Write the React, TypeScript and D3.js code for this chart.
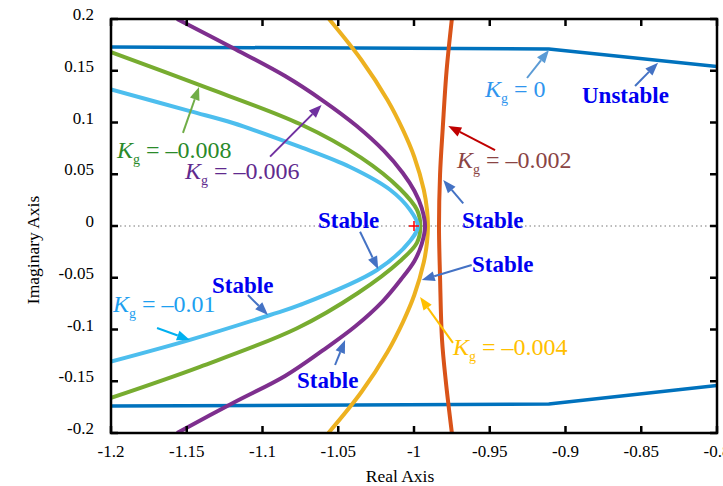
import React from "react";
import * as d3 from "d3";

// axis ticks
const xTicks = [-1.2, -1.15, -1.1, -1.05, -1, -0.95, -0.9, -0.85, -0.8];
const xTickLabels = ["-1.2", "-1.15", "-1.1", "-1.05", "-1", "-0.95", "-0.9", "-0.85", "-0.8"];
const yTicks = [0.2, 0.15, 0.1, 0.05, 0, -0.05, -0.1, -0.15, -0.2];
const yTickLabels = ["0.2", "0.15", "0.1", "0.05", "0", "-0.05", "-0.1", "-0.15", "-0.2"];

// root locus branches, [real, imag]
const kg0Upper: [number, number][] = [[-1.2, 0.173], [-0.911, 0.171], [-0.8, 0.154]];
const kg0Lower: [number, number][] = [[-1.2, -0.174], [-0.911, -0.172], [-0.8, -0.154]];
const kg002: [number, number][] = [
  [-0.975, 0.2], [-0.9785, 0.15], [-0.981, 0.095], [-0.9828, 0.05], [-0.9835, 0],
  [-0.9828, -0.05], [-0.9815, -0.11], [-0.979, -0.15], [-0.975, -0.2],
];
const kg004: [number, number][] = [
  [-1.0561, 0.2], [-1.0347, 0.1604], [-1.0175, 0.1217], [-1.0073, 0.0928], [-0.9998, 0.0667],
  [-0.9935, 0.0348], [-0.9914, 0.0155], [-0.9908, 0], [-0.9914, -0.0155], [-0.9935, -0.0348],
  [-0.9998, -0.0667], [-1.0073, -0.0928], [-1.0175, -0.1217], [-1.0347, -0.1604], [-1.0565, -0.2],
];
const kg006: [number, number][] = [
  [-1.1564, 0.2], [-1.1195, 0.172], [-1.0851, 0.1449], [-1.0607, 0.1217], [-1.0378, 0.0966],
  [-1.0198, 0.0725], [-1.0074, 0.0512], [-0.9997, 0.0338], [-0.9949, 0.0174], [-0.9927, 0],
  [-0.9949, -0.0174], [-0.9997, -0.0338], [-1.0085, -0.0515], [-1.0205, -0.0725],
  [-1.0385, -0.0966], [-1.0607, -0.1207], [-1.0851, -0.1449], [-1.1195, -0.171], [-1.1564, -0.2],
];
const kg008: [number, number][] = [
  [-1.2, 0.168], [-1.1413, 0.136], [-1.0752, 0.0985], [-1.035, 0.066], [-1.0093, 0.036],
  [-0.998, 0.0155], [-0.9958, 0], [-0.998, -0.016], [-1.0093, -0.034], [-1.037, -0.0647],
  [-1.0775, -0.099], [-1.1413, -0.136], [-1.2, -0.166],
];
const kg010: [number, number][] = [
  [-1.2, 0.132], [-1.1479, 0.111], [-1.1195, 0.0995], [-1.0752, 0.0764], [-1.0422, 0.057],
  [-1.0158, 0.035], [-1.0026, 0.0155], [-0.9974, 0], [-1.0026, -0.0145], [-1.0244, -0.0425],
  [-1.0752, -0.0763], [-1.095, -0.086], [-1.1479, -0.11], [-1.2, -0.131],
];

const series = [
  { pts: kg0Upper, color: "#0072BD", w: 3.5, smooth: false },
  { pts: kg0Lower, color: "#0072BD", w: 3.5, smooth: false },
  { pts: kg002, color: "#D95319", w: 4, smooth: true },
  { pts: kg004, color: "#EDB120", w: 4, smooth: true },
  { pts: kg006, color: "#7E2F8E", w: 4, smooth: true },
  { pts: kg008, color: "#77AC30", w: 4, smooth: true },
  { pts: kg010, color: "#4DBEEE", w: 4, smooth: true },
];

// annotation texts and arrows (data coordinates)
const kLabels = [
  { value: "0", re: -0.9531, im: 0.1246, color: "#2F95EE" },
  { value: "–0.002", re: -0.9716, im: 0.056, color: "#8A4444" },
  { value: "–0.004", re: -0.9743, im: -0.1246, color: "#FFC000" },
  { value: "–0.006", re: -1.1512, im: 0.0454, color: "#5F2A8E" },
  { value: "–0.008", re: -1.196, im: 0.0657, color: "#2A8A2A" },
  { value: "–0.01", re: -1.1987, im: -0.0831, color: "#1E9FF0" },
];
const stableLabels = [
  { text: "Unstable", re: -0.8891, im: 0.1188 },
  { text: "Stable", re: -0.9683, im: -0.0019 },
  { text: "Stable", re: -1.0634, im: -0.0019 },
  { text: "Stable", re: -0.9617, im: -0.0444 },
  { text: "Stable", re: -1.1333, im: -0.0647 },
  { text: "Stable", re: -1.0772, im: -0.1565 },
];
const arrows = [
  { from: [-0.9254, 0.143], to: [-0.9109, 0.17], color: "#5B9BD5" },
  { from: [-0.8541, 0.1353], to: [-0.8389, 0.1578], color: "#4472C4" },
  { from: [-0.9465, 0.0734], to: [-0.9774, 0.0966], color: "#C00000" },
  { from: [-0.9675, 0.0219], to: [-0.9807, 0.0444], color: "#4472C4" },
  { from: [-1.0356, -0.0055], to: [-1.0236, -0.0418], color: "#4472C4" },
  { from: [-0.9619, -0.0377], to: [-0.9949, -0.0522], color: "#4472C4" },
  { from: [-1.1096, -0.0667], to: [-1.0964, -0.086], color: "#4472C4" },
  { from: [-1.0521, -0.1343], to: [-1.0455, -0.1101], color: "#4472C4" },
  { from: [-1.1696, -0.0985], to: [-1.1479, -0.1101], color: "#00B0F0" },
  { from: [-1.1525, 0.0899], to: [-1.1419, 0.1343], color: "#70AD47" },
  { from: [-1.095, 0.067], to: [-1.061, 0.117], color: "#7030A0" },
  { from: [-0.9743, -0.113], to: [-0.996, -0.0686], color: "#FFC000" },
];
const marker = [-1.0, 0];

const FONT = "Liberation Serif";

export default function App() {
  const left = 111, right = 717, top = 19, bottom = 433;
  const x = d3.scaleLinear().domain([-1.2, -0.8]).range([left, right]);
  const y = d3.scaleLinear().domain([-0.2, 0.2]).range([bottom, top]);

  const smoothLine = d3.line<[number, number]>()
    .x(d => x(d[0])).y(d => y(d[1]))
    .curve(d3.curveCatmullRom.alpha(0.5));
  const straightLine = d3.line<[number, number]>()
    .x(d => x(d[0])).y(d => y(d[1]));

  //arrow with filled head
  const arrow = (a: any, i: number) => {
    const x1 = x(a.from[0]), y1 = y(a.from[1]);
    const x2 = x(a.to[0]), y2 = y(a.to[1]);
    const len = Math.hypot(x2 - x1, y2 - y1);
    const ux = (x2 - x1) / len, uy = (y2 - y1) / len;
    const hl = 13, hw = 5;
    const bx = x2 - ux * hl, by = y2 - uy * hl;
    const pts = [
      [x2, y2],
      [bx - uy * hw, by + ux * hw],
      [bx + uy * hw, by - ux * hw],
    ].map(p => p.join(",")).join(" ");
    return (
      <g key={"a" + i}>
        <line x1={x1} y1={y1} x2={bx} y2={by} stroke={a.color} strokeWidth={2} />
        <polygon points={pts} fill={a.color} />
      </g>
    );
  };

  return (
    <svg width={723} height={486} style={{ position: "absolute", left: 0, top: 0, background: "#fff" }}
      fontFamily={FONT}>
      <defs>
        <clipPath id="plotClip">
          <rect x={left} y={top} width={right - left} height={bottom - top} />
        </clipPath>
      </defs>

      {/* zero line */}
      <line x1={left} x2={right} y1={y(0)} y2={y(0)} stroke="#777" strokeWidth={1}
        strokeDasharray="1.5,3" />

      {/* loci */}
      <g clipPath="url(#plotClip)">
        {series.map((s, i) => (
          <path key={i} d={(s.smooth ? smoothLine : straightLine)(s.pts) || ""}
            fill="none" stroke={s.color} strokeWidth={s.w} strokeLinejoin="round" />
        ))}
      </g>

      {/* red cross */}
      <g stroke="#FF0000" strokeWidth={1.5}>
        <line x1={x(marker[0]) - 5} x2={x(marker[0]) + 5} y1={y(marker[1])} y2={y(marker[1])} />
        <line x1={x(marker[0])} x2={x(marker[0])} y1={y(marker[1]) - 5} y2={y(marker[1]) + 5} />
      </g>

      {/* box and ticks */}
      <g stroke="#000" strokeWidth={2.5}>
        <rect x={left} y={top} width={right - left} height={bottom - top} fill="none" />
        {xTicks.map((t, i) => (
          <g key={"xt" + i}>
            <line x1={x(t)} x2={x(t)} y1={bottom} y2={bottom - 7} />
            <line x1={x(t)} x2={x(t)} y1={top} y2={top + 7} />
          </g>
        ))}
        {yTicks.map((t, i) => (
          <g key={"yt" + i}>
            <line x1={left} x2={left + 7} y1={y(t)} y2={y(t)} />
            <line x1={right} x2={right - 7} y1={y(t)} y2={y(t)} />
          </g>
        ))}
      </g>
      {xTicks.map((t, i) => (
        <text key={"xl" + i} x={x(t)} y={457} fontSize={17} textAnchor="middle" fill="#000">
          {xTickLabels[i]}
        </text>
      ))}
      {yTicks.map((t, i) => (
        <text key={"yl" + i} x={94} y={y(t) + 1} fontSize={17} textAnchor="end" fill="#000">
          {yTickLabels[i]}
        </text>
      ))}
      <text x={400} y={482} fontSize={17.5} textAnchor="middle" fill="#000">Real Axis</text>
      <text transform="translate(39,250) rotate(-90)" fontSize={17.5} textAnchor="middle" fill="#000">
        Imaginary Axis
      </text>

      {/* annotations */}
      {arrows.map(arrow)}
      {kLabels.map((k, i) => (
        <text key={"k" + i} x={x(k.re)} y={y(k.im)} fontSize={24} fill={k.color}>
          <tspan fontStyle="italic">K</tspan>
          <tspan fontSize={14} dy={6}>g</tspan>
          <tspan dy={-6}>{" = " + k.value}</tspan>
        </text>
      ))}
      {stableLabels.map((s, i) => (
        <text key={"s" + i} x={x(s.re)} y={y(s.im)} fontSize={23} fontWeight={700} fill="#0000F0">
          {s.text}
        </text>
      ))}
    </svg>
  );
}
